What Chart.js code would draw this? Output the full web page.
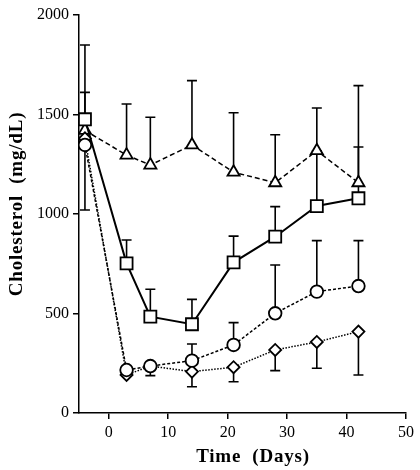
<!DOCTYPE html>
<html>
<head>
<meta charset="utf-8">
<script src="https://cdn.jsdelivr.net/npm/chart.js@4/dist/chart.umd.min.js"></script>
<style>
  html, body { margin: 0; padding: 0; background: #fff; }
  #wrap { width: 420px; height: 470px; }
</style>
</head>
<body>
<div id="wrap"><canvas id="chart" width="420" height="470"></canvas></div>
<script>
// sampling days
var days = [-4, 3, 7, 14, 21, 28, 35, 42];

// group means (mg/dL)
var triangle = [1420, 1296, 1246, 1347, 1210, 1157, 1318, 1157];
var square = [1476, 752, 484, 446, 757, 886, 1040, 1079];
var circle = [1347, 216, 236, 263, 342, 501, 610, 638];
var diamond = [1380, 191, 236, 208, 230, 317, 357, 409];

// error bar ends (null = none visible)
var triangleErr = [1611, 1553, 1486, 1670, 1509, 1398, 1533, 1645];
var squareErr = [1849, 869, 622, 571, 889, 1037, 1318, 1337];
var circleErr = [null, null, null, 347, 454, 744, 866, 866];
var diamondErr = [1020, null, 188, 132, 157, 213, 225, 191];

var xTicks = [0, 10, 20, 30, 40, 50];
var yTicks = [0, 500, 1000, 1500, 2000];

function points(ys) {
    return days.map(function (d, i) { return { x: d, y: ys[i] }; });
}

var serif = "'Liberation Serif', 'DejaVu Serif', serif";

// vertical error bars with caps, drawn under the markers
var errorBars = {
    id: "errorBars",
    beforeDatasetsDraw: function (chart) {
        var ctx = chart.ctx;
        var xs = chart.scales.x, ys = chart.scales.y;
        ctx.save();
        ctx.strokeStyle = "#000";
        ctx.lineWidth = 1.6;
        ctx.setLineDash([]);
        chart.data.datasets.forEach(function (ds) {
            ds.errEnds.forEach(function (e, i) {
                if (e === null) return;
                var px = xs.getPixelForValue(days[i]);
                var p0 = ys.getPixelForValue(ds.data[i].y);
                var p1 = ys.getPixelForValue(e);
                ctx.beginPath();
                ctx.moveTo(px, p0);
                ctx.lineTo(px, p1);
                ctx.moveTo(px - 5, p1);
                ctx.lineTo(px + 5, p1);
                ctx.stroke();
            });
        });
        ctx.restore();
    },
    afterDraw: function (chart) {
        // axis titles
        var ctx = chart.ctx;
        ctx.save();
        ctx.fillStyle = "#000";
        ctx.font = "bold 19px " + serif;
        ctx.letterSpacing = "0.8px";
        ctx.textAlign = "center";
        ctx.textBaseline = "middle";
        ctx.fillText("Time  (Days)", 253, 457);
        ctx.translate(17, 204);
        ctx.rotate(-Math.PI / 2);
        ctx.fillText("Cholesterol  (mg/dL)", 0, 0);
        ctx.restore();
    }
};

function series(label, ys, errs, style, radius, dash, width) {
    return {
        label: label,
        data: points(ys),
        errEnds: errs,
        showLine: true,
        borderColor: "#000",
        borderWidth: width,
        borderDash: dash,
        pointStyle: style,
        pointRadius: radius,
        pointBackgroundColor: "#fff",
        pointBorderColor: "#000",
        pointBorderWidth: 1.8,
        tension: 0
    };
}

function plain(v) { return String(v); }

var ctx = document.getElementById("chart").getContext("2d");
var chart = new Chart(ctx, {
    type: "scatter",
    data: {
        datasets: [
            series("circle", circle, circleErr, "circle", 6.3, [3, 2], 1.5),
            series("diamond", diamond, diamondErr, "rectRot", 6, [1.5, 1.5], 1.5),
            series("square", square, squareErr, "rect", 8.5, [], 2),
            series("triangle", triangle, triangleErr, "triangle", 7, [5, 3], 1.5)
        ]
    },
    options: {
        responsive: false,
        animation: false,
        layout: { padding: { top: 15, right: 14, left: 0, bottom: 0 } },
        plugins: {
            legend: { display: false },
            tooltip: { enabled: false }
        },
        scales: {
            x: {
                type: "linear",
                min: -5,
                max: 50,
                afterFit: function (s) { s.height = 57; },
                afterBuildTicks: function (s) { s.ticks = xTicks.map(function (v) { return { value: v }; }); },
                grid: { drawOnChartArea: false, drawTicks: true, tickLength: 6, color: "#000", lineWidth: 1.5 },
                border: { display: true, color: "#000", width: 1.5 },
                ticks: { color: "#000", padding: 4, font: { family: serif, size: 16 }, maxRotation: 0, callback: plain }
            },
            y: {
                type: "linear",
                min: 0,
                max: 2000,
                afterFit: function (s) { s.width = 79; },
                afterBuildTicks: function (s) { s.ticks = yTicks.map(function (v) { return { value: v }; }); },
                grid: { drawOnChartArea: false, drawTicks: true, tickLength: 6, color: "#000", lineWidth: 1.5 },
                border: { display: true, color: "#000", width: 1.5 },
                ticks: { color: "#000", padding: 4, font: { family: serif, size: 16 }, callback: plain }
            }
        }
    },
    plugins: [errorBars]
});
</script>
</body>
</html>
